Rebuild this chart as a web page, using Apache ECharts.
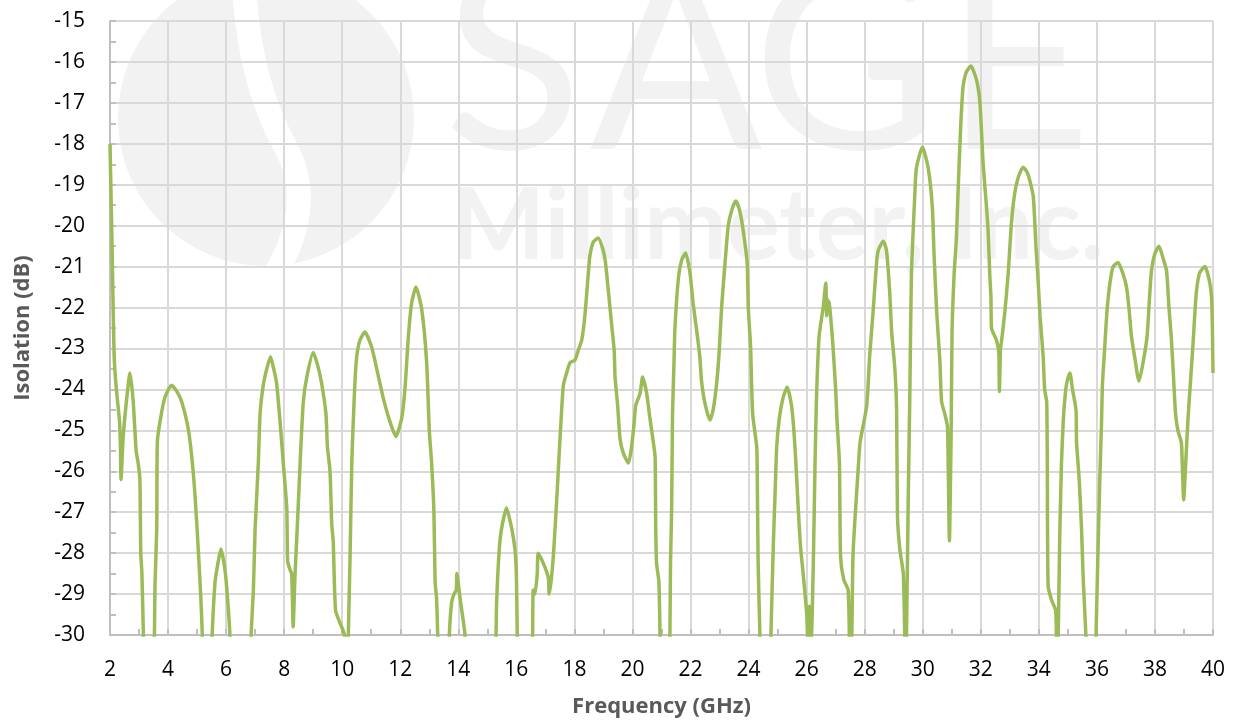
<!DOCTYPE html>
<html>
<head>
<meta charset="utf-8">
<script src="https://cdn.jsdelivr.net/npm/echarts@6/dist/echarts.min.js"></script>
<style>
html,body{margin:0;padding:0;background:#fff;}
#chart{width:1238px;height:723px;}
</style>
</head>
<body>
<div id="chart"></div>
<script>
// Frequency (GHz) sample points
const freq = [
2.00,2.06,2.11,2.15,2.22,2.33,2.36,2.38,2.45,2.55,2.69,2.80,2.90,2.97,3.03,3.06,3.10,3.15,3.18,
3.50,3.53,3.55,3.61,3.63,3.72,3.89,4.12,4.30,4.47,4.68,4.81,4.93,5.04,5.13,5.18,5.21,
5.49,5.52,5.62,5.73,5.82,5.96,6.05,6.13,6.16,
6.83,6.86,6.94,7.00,7.11,7.17,7.28,7.40,7.53,7.64,7.74,7.86,7.97,8.09,8.12,8.20,8.26,8.31,8.37,8.45,8.55,8.66,8.78,9.00,9.15,9.29,9.44,9.49,9.58,9.64,9.69,9.77,9.92,10.08,10.12,
10.18,10.21,10.27,10.33,10.38,10.44,10.50,10.61,10.78,11.01,11.19,11.41,11.65,11.85,12.05,12.16,12.28,12.39,12.54,12.74,12.91,13.00,13.08,13.16,13.20,13.25,13.29,13.32,
13.66,13.69,13.77,13.85,13.93,13.95,14.06,14.23,14.26,
15.27,15.30,15.32,15.41,15.49,15.66,15.84,15.95,16.00,16.03,16.06,
16.53,16.56,16.58,16.64,16.72,16.75,16.93,17.10,17.13,17.21,17.29,17.39,17.48,17.56,17.62,17.73,17.85,18.02,18.13,18.25,18.36,18.48,18.53,18.65,18.82,18.99,19.07,19.17,19.28,19.37,19.40,19.49,19.57,19.68,19.86,19.97,20.06,20.11,20.26,20.35,20.49,20.60,20.72,20.78,20.80,20.83,20.91,20.95,20.98,
21.26,21.29,21.31,21.35,21.38,21.43,21.46,21.58,21.69,21.83,21.98,22.09,22.21,22.32,22.38,22.50,22.67,22.78,22.90,22.99,23.07,23.19,23.30,23.43,23.56,23.68,23.79,23.95,23.99,24.07,24.14,24.28,24.30,24.33,24.39,24.42,
24.74,24.77,24.85,24.91,24.97,25.06,25.19,25.33,25.48,25.56,25.63,25.71,25.79,25.88,26.00,26.04,26.10,26.16,26.23,26.29,26.34,26.43,26.57,26.66,26.69,26.71,26.78,26.86,26.91,27.00,27.05,27.13,27.17,27.28,27.43,27.49,27.55,27.60,27.78,27.84,28.07,28.17,28.29,28.41,28.47,28.64,28.75,28.86,28.93,29.04,29.10,29.13,29.21,29.33,29.38,29.40,
29.42,29.44,29.50,29.56,29.61,29.73,29.78,29.99,30.19,30.33,30.39,30.48,30.59,30.65,30.76,30.85,30.88,30.92,30.95,30.98,31.01,31.08,31.16,31.22,31.31,31.39,31.50,31.66,31.86,31.97,32.08,32.20,32.25,32.31,32.35,32.37,32.54,32.62,32.64,32.68,32.71,32.83,32.94,33.06,33.17,33.30,33.46,33.60,33.69,33.81,33.90,33.98,34.04,34.15,34.20,34.27,34.29,34.32,34.44,34.58,34.61,34.64,34.67,34.72,34.78,34.84,34.90,34.96,35.07,35.16,35.28,35.30,35.39,35.47,35.53,35.62,35.65,
35.94,35.97,36.04,36.10,36.16,36.19,36.27,36.35,36.45,36.56,36.73,36.91,37.02,37.11,37.19,37.30,37.45,37.59,37.73,37.80,37.88,37.99,38.14,38.28,38.40,38.48,38.56,38.64,38.71,38.79,38.91,38.94,38.99,39.06,39.14,39.22,39.31,39.37,39.43,39.54,39.72,39.89,39.96,40.00
];
// Isolation (dB) at each frequency above
const isolation = [
-18.0,-20.1,-22.1,-23.3,-24.0,-24.8,-25.4,-26.2,-25.2,-24.4,-23.6,-24.3,-25.5,-25.8,-26.2,-28.0,-28.5,-30.0,-31,
-31,-30.0,-28.8,-27.4,-25.3,-24.8,-24.2,-23.9,-24.05,-24.3,-24.9,-25.6,-26.6,-27.9,-29.1,-30.0,-31,
-31,-30,-28.7,-28.2,-27.9,-28.4,-29.1,-30,-31,
-31,-30,-28.9,-27.4,-25.8,-24.6,-23.9,-23.5,-23.2,-23.5,-23.85,-24.8,-25.8,-26.9,-28.2,-28.4,-28.5,-29.8,-28.6,-27.4,-25.8,-24.3,-23.7,-23.1,-23.4,-23.85,-24.6,-25.4,-26.0,-27.3,-27.7,-29.4,-29.7,-30.0,-31,
-31,-30,-28.1,-25.8,-24.8,-23.8,-23.2,-22.8,-22.6,-22.96,-23.5,-24.2,-24.8,-25.15,-24.7,-24.0,-22.7,-21.9,-21.5,-22.05,-23.35,-25.0,-25.8,-27.0,-28.7,-29.1,-30,-31,
-31,-30,-29.2,-29.0,-28.9,-28.5,-29.1,-30,-31,
-31,-30,-29.2,-27.9,-27.4,-26.9,-27.4,-27.9,-28.5,-30,-31,
-31,-30,-28.9,-29.0,-28.5,-28.0,-28.25,-28.6,-29.0,-28.6,-27.9,-26.7,-25.5,-24.5,-23.9,-23.6,-23.35,-23.28,-23.05,-22.8,-22.2,-21.15,-20.75,-20.4,-20.3,-20.6,-20.9,-21.6,-22.4,-23.05,-23.7,-24.4,-25.2,-25.55,-25.8,-25.4,-24.8,-24.4,-24.1,-23.7,-24.1,-24.7,-25.3,-25.65,-27.3,-28.25,-28.7,-30,-31,
-31,-30,-28.25,-26.9,-24.6,-23.35,-22.55,-21.3,-20.85,-20.67,-21.15,-21.9,-22.55,-23.2,-23.8,-24.35,-24.75,-24.5,-23.85,-23.05,-22.0,-20.9,-20.0,-19.6,-19.4,-19.6,-20.0,-20.9,-22.0,-22.97,-24.6,-25.4,-26.2,-28.25,-30,-31,
-31,-30,-27.85,-26.6,-25.4,-24.7,-24.2,-23.95,-24.4,-25.0,-25.8,-26.9,-27.85,-28.5,-29.45,-30.1,-29.3,-30.1,-28.25,-25.8,-24.2,-22.7,-22.0,-21.4,-22.2,-21.8,-21.9,-22.5,-22.97,-24.0,-24.8,-25.8,-28.1,-28.65,-28.9,-30.4,-30.2,-28.0,-25.9,-25.3,-24.4,-23.2,-22.1,-20.9,-20.6,-20.38,-20.6,-21.6,-22.6,-23.5,-24.5,-27.1,-27.9,-28.5,-30,-31,
-31,-30,-26.7,-23.9,-21.2,-19.2,-18.6,-18.08,-18.6,-19.55,-20.7,-22.1,-23.3,-24.3,-24.6,-24.9,-26.0,-27.7,-26.5,-25.0,-22.6,-21.2,-20.3,-19.1,-17.55,-16.6,-16.25,-16.1,-16.46,-17.0,-18.47,-19.57,-20.1,-21.2,-21.75,-22.5,-22.8,-23.1,-24.05,-23.0,-22.85,-22.1,-21.2,-19.9,-19.2,-18.8,-18.57,-18.7,-18.9,-19.3,-20.5,-21.4,-22.2,-23.2,-24.0,-24.3,-25.65,-28.8,-29.15,-29.4,-30.2,-30.3,-29.9,-27.6,-25.8,-24.8,-24.2,-23.85,-23.6,-24.0,-24.5,-25.3,-26.2,-27.4,-28.65,-30,-31,
-31,-30,-27.9,-26.2,-24.8,-23.9,-22.97,-22.07,-21.4,-21.0,-20.9,-21.2,-21.5,-22.05,-22.7,-23.2,-23.8,-23.35,-22.7,-21.9,-21.1,-20.7,-20.5,-20.8,-21.1,-21.97,-22.7,-23.7,-24.6,-25.0,-25.3,-25.8,-26.7,-25.8,-24.7,-23.85,-22.9,-22.2,-21.6,-21.15,-21.0,-21.4,-21.9,-23.6
];
const xTickLabels = [2,4,6,8,10,12,14,16,18,20,22,24,26,28,30,32,34,36,38,40];
const yTickLabels = [-30,-29,-28,-27,-26,-25,-24,-23,-22,-21,-20,-19,-18,-17,-16,-15];

const seriesData = freq.map((f, i) => [f, isolation[i]]);
const wm = '#f2f2f2';

const chart = echarts.init(document.getElementById('chart'), null, {renderer: 'canvas'});
chart.setOption({
  animation: false,
  backgroundColor: '#ffffff',
  grid: {left: 110, right: 25, top: 21, bottom: 88, containLabel: false},
  graphic: [
    {type: 'circle', z: -10, shape: {cx: 266, cy: 118, r: 148}, style: {fill: wm}},
    {type: 'bezierCurve', z: -9, shape: {x1: 243, y1: -40, cpx1: 245, cpy1: 50, cpx2: 262, cpy2: 105, x2: 287, y2: 150},
     style: {fill: null, stroke: '#ffffff', lineWidth: 24}},
    {type: 'bezierCurve', z: -9, shape: {x1: 287, y1: 150, cpx1: 307, cpy1: 188, cpx2: 302, cpy2: 235, x2: 268, y2: 285},
     style: {fill: null, stroke: '#ffffff', lineWidth: 24}},
    {type: 'text', z: -10, style: {text: 'S', x: 513, y: 67, font: '400 255px Lato', fill: wm, align: 'center', verticalAlign: 'middle'}},
    {type: 'text', z: -10, style: {text: 'A', x: 676, y: 67, font: '400 255px Lato', fill: wm, align: 'center', verticalAlign: 'middle'}},
    {type: 'text', z: -10, style: {text: 'G', x: 846, y: 67, font: '400 255px Lato', fill: wm, align: 'center', verticalAlign: 'middle'}},
    {type: 'text', z: -10, style: {text: 'E', x: 1018, y: 67, font: '400 255px Lato', fill: wm, align: 'center', verticalAlign: 'middle'}},
    {type: 'text', z: -10, style: {text: 'Millimeter, Inc.', x: 778, y: 227, font: 'bold 99px Lato', fill: wm, align: 'center', verticalAlign: 'middle'}}
  ],
  xAxis: {
    type: 'value', min: 2, max: 40, interval: 2,
    name: 'Frequency (GHz)', nameLocation: 'middle', nameGap: 61,
    nameTextStyle: {fontFamily: 'Open Sans', fontWeight: 'bold', fontSize: 22, color: '#595959'},
    axisLine: {show: true, onZero: false, lineStyle: {color: '#bfbfbf', width: 2}},
    axisTick: {show: true, inside: true, length: 6, lineStyle: {color: '#bfbfbf', width: 2}},
    minorTick: {show: true, splitNumber: 2, length: 6, lineStyle: {color: '#bfbfbf', width: 2}},
    splitLine: {show: true, lineStyle: {color: '#d9d9d9', width: 2}},
    axisLabel: {fontFamily: 'Open Sans', fontSize: 21, color: '#000000', margin: 25,
      formatter: v => (xTickLabels.indexOf(v) >= 0 ? String(v) : '')}
  },
  yAxis: {
    type: 'value', min: -30, max: -15, interval: 1,
    name: 'Isolation (dB)', nameLocation: 'middle', nameGap: 76,
    nameTextStyle: {fontFamily: 'Open Sans', fontWeight: 'bold', fontSize: 22, color: '#595959'},
    axisLine: {show: true, onZero: false, lineStyle: {color: '#bfbfbf', width: 2}},
    axisTick: {show: true, inside: true, length: 6, lineStyle: {color: '#bfbfbf', width: 2}},
    minorTick: {show: true, splitNumber: 2, length: 6, lineStyle: {color: '#bfbfbf', width: 2}},
    splitLine: {show: true, lineStyle: {color: '#d9d9d9', width: 2}},
    axisLabel: {fontFamily: 'Open Sans', fontSize: 21, color: '#000000', margin: 25,
      formatter: v => (yTickLabels.indexOf(v) >= 0 ? String(v) : '')}
  },
  series: [{
    type: 'line',
    data: seriesData,
    showSymbol: false,
    smooth: 0.2,
    clip: true,
    lineStyle: {color: '#9bbb59', width: 3.5},
    z: 5
  }]
});
</script>
</body>
</html>
